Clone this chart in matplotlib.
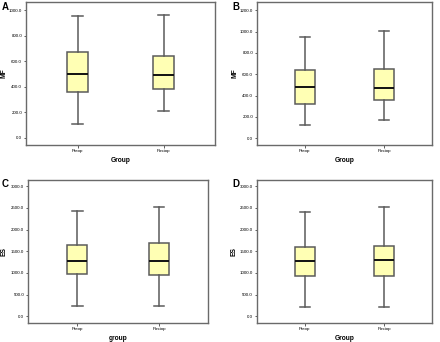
import matplotlib
matplotlib.use("Agg")
import matplotlib.pyplot as plt

plt.rcParams['font.family'] = ['Liberation Sans', 'DejaVu Sans']

groups = ["Preop", "Postop"]

# five-number summaries: low whisker, Q1, median, Q3, high whisker
a_stats = [[109, 364, 501, 675, 956], [208, 382, 496, 644, 961]]
b_stats = [[122, 318, 477, 636, 947], [171, 358, 473, 648, 1010]]
c_stats = [[246, 985, 1285, 1646, 2423], [231, 962, 1285, 1692, 2515]]
d_stats = [[208, 938, 1285, 1600, 2400], [223, 938, 1308, 1631, 2515]]

panels = [
    ("A", a_stats, "MF", "Group", [0, 200, 400, 600, 800, 1000], (-55, 1065)),
    ("B", b_stats, "MF", "Group", [0, 200, 400, 600, 800, 1000, 1200], (-65, 1278)),
    ("C", c_stats, "ES", "group", [0, 500, 1000, 1500, 2000, 2500, 3000], (-154, 3154)),
    ("D", d_stats, "ES", "Group", [0, 500, 1000, 1500, 2000, 2500, 3000], (-154, 3154)),
]

# axes rectangles in figure fractions
rects = [
    [0.059, 0.576, 0.430, 0.418],
    [0.584, 0.576, 0.398, 0.418],
    [0.064, 0.056, 0.409, 0.419],
    [0.584, 0.056, 0.398, 0.419],
]
letter_pos = [(0.003, 0.980), (0.527, 0.980), (0.003, 0.463), (0.527, 0.463)]
ylab_x = [-0.10, -0.103, -0.117, -0.11]

fig = plt.figure(figsize=(4.4, 3.42), dpi=100)
edge = "#5b5b5b"

for (letter, stats, ylab, xlab, ticks, ylim), rect, lp, lx in zip(panels, rects, letter_pos, ylab_x):
    ax = fig.add_axes(rect)
    bx = []
    for g, s in zip(groups, stats):
        bx.append(dict(label=g, whislo=s[0], q1=s[1], med=s[2], q3=s[3], whishi=s[4], fliers=[]))
    ax.bxp(bx, positions=[1, 2], widths=0.25, patch_artist=True, showfliers=False,
           boxprops=dict(facecolor="#ffffb4", edgecolor=edge, linewidth=1.1),
           medianprops=dict(color="#111111", linewidth=1.4),
           whiskerprops=dict(color=edge, linewidth=1.1),
           capprops=dict(color=edge, linewidth=1.1), capwidths=0.13)
    ax.set_xlim(0.4, 2.6)
    ax.set_ylim(*ylim)
    ax.set_yticks(ticks)
    ax.set_yticklabels([f"{t:.1f}" for t in ticks], fontsize=3.2)
    ax.set_xticks([1, 2])
    ax.set_xticklabels(groups, fontsize=3.2)
    ax.tick_params(length=1.8, width=0.6, pad=1, color="#444444")
    for sp in ax.spines.values():
        sp.set_color("#6a6a6a")
        sp.set_linewidth(1.0)
    ax.set_ylabel(ylab, fontsize=4.8, fontweight="bold")
    ax.yaxis.set_label_coords(lx, 0.5)
    ax.set_xlabel(xlab, fontsize=4.8, fontweight="bold", labelpad=3)
    fig.text(lp[0], lp[1], letter, fontsize=7, fontweight="bold", va="center", ha="left")

fig.savefig("out.png", dpi=100)
